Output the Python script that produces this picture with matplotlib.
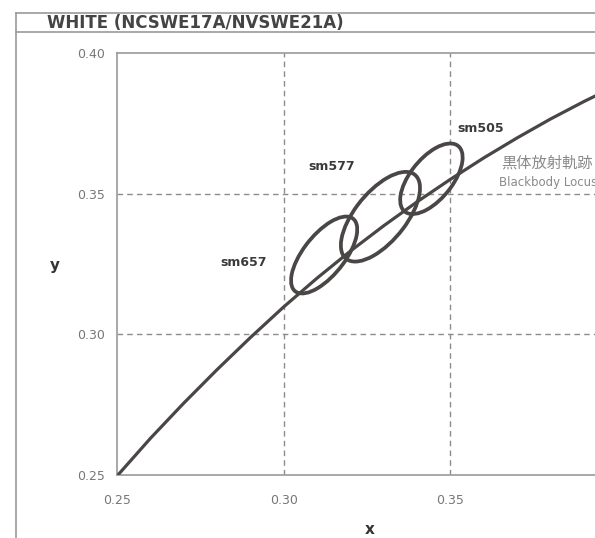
import matplotlib
matplotlib.use("Agg")
import matplotlib.pyplot as plt
from matplotlib.patches import Ellipse
from matplotlib.lines import Line2D

# blackbody locus
locus_x = [0.2502, 0.2600, 0.2700, 0.2800, 0.2900, 0.3000, 0.3100, 0.3200,
           0.3300, 0.3400, 0.3500, 0.3600, 0.3700, 0.3800, 0.3900, 0.4000]
locus_y = [0.2500, 0.2631, 0.2756, 0.2875, 0.2989, 0.3098, 0.3200, 0.3296,
           0.3386, 0.3471, 0.3551, 0.3627, 0.3698, 0.3765, 0.3827, 0.3885]

# ellipses (centre x, centre y, semi-major, semi-minor, angle deg)
names = ["sm657", "sm577", "sm505"]
cx = [0.3121, 0.3290, 0.3443]
cy = [0.3282, 0.3418, 0.3553]
semi_a = [0.0156, 0.0182, 0.0142]
semi_b = [0.0065, 0.0080, 0.0066]
angles = [58, 57.5, 58]
label_x = [0.2878, 0.3145, 0.3592]
label_y = [0.3257, 0.3597, 0.3730]

xticks = [0.25, 0.30, 0.35]
yticks = [0.25, 0.30, 0.35, 0.40]
grid_vals = [0.30, 0.35]

dark = "#4a4646"
gray = "#8a8a8a"
narrow = ["Liberation Sans Narrow", "DejaVu Sans"]

fig = plt.figure(figsize=(5.95, 5.38), dpi=100)
ax = fig.add_axes([0.1971, 0.1171, 0.8398, 0.7844])

ax.plot(locus_x, locus_y, color=dark, lw=2.3, solid_capstyle="butt",
        solid_joinstyle="round", zorder=3)

for i in range(len(names)):
    e = Ellipse((cx[i], cy[i]), 2 * semi_a[i], 2 * semi_b[i], angle=angles[i],
                fill=False, edgecolor=dark, lw=2.7, zorder=4)
    ax.add_patch(e)
    ax.text(label_x[i], label_y[i], names[i], fontsize=9, fontweight="bold",
            color="#3a3a3a", ha="center", va="center")

ax.text(0.3652, 0.3609, "黒体放射軌跡", fontsize=11, color=gray,
        family=["Noto Sans CJK JP", "DejaVu Sans"], va="center", ha="left")
ax.text(0.3645, 0.3538, "Blackbody Locus", fontsize=8.5, color=gray,
        family=narrow, va="center", ha="left")

for v in grid_vals:
    ax.axvline(v, color="#8c8c8c", linestyle=(0, (4, 3)), lw=1.0, zorder=1)
    ax.axhline(v, color="#8c8c8c", linestyle=(0, (4, 3)), lw=1.0, zorder=1)

ax.set_xlim(0.25, 0.40)
ax.set_ylim(0.25, 0.40)
ax.set_xticks(xticks)
ax.set_yticks(yticks)
ax.set_xticklabels([f"{v:.2f}" for v in xticks], family=narrow, fontsize=9, color="#777777")
ax.set_yticklabels([f"{v:.2f}" for v in yticks], family=narrow, fontsize=9, color="#777777")
ax.tick_params(axis="x", length=0, pad=14)
ax.tick_params(axis="y", length=0, pad=9)
for s in ax.spines.values():
    s.set_color("#9a9a9a")
    s.set_linewidth(1.2)

fig.text(0.622, 0.016, "x", fontsize=11, fontweight="bold", color="#333333",
         ha="center", va="center")
fig.text(0.092, 0.507, "y", fontsize=11, fontweight="bold", color="#333333",
         ha="center", va="center")

# frame and title
fig.add_artist(Line2D([0.027, 0.027], [0.0, 0.976], color="#9a9a9a", lw=1.2))
fig.add_artist(Line2D([0.027, 1.0], [0.976, 0.976], color="#9a9a9a", lw=1.2))
fig.add_artist(Line2D([0.027, 1.0], [0.940, 0.940], color="#9a9a9a", lw=1.2))
fig.text(0.079, 0.958, "WHITE (NCSWE17A/NVSWE21A)", fontsize=12, fontweight="bold",
         color="#444444", ha="left", va="center")

fig.savefig("out.png", dpi=100)
